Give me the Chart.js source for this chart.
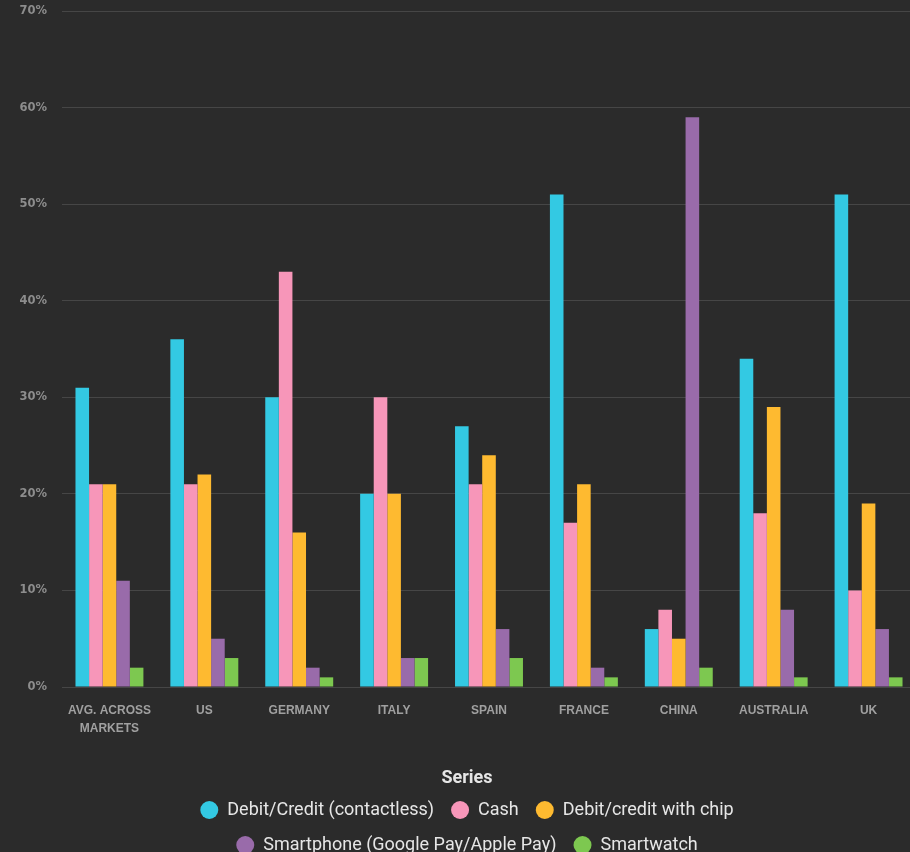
<!DOCTYPE html>
<html>
<head>
<meta charset="utf-8">
<script src="https://cdn.jsdelivr.net/npm/chart.js@4.4.1/dist/chart.umd.min.js"></script>
<style>
  html, body { margin: 0; padding: 0; background: #2b2b2b; overflow: hidden; width: 910px; height: 852px; }
  #wrap { position: absolute; left: 0; top: 0; width: 916px; height: 864px; }
</style>
</head>
<body>
<div id="wrap"><canvas id="c"></canvas></div>
<script>
const categories = [["AVG. ACROSS", "MARKETS"], "US", "GERMANY", "ITALY", "SPAIN", "FRANCE", "CHINA", "AUSTRALIA", "UK"];
const seriesNames = ["Debit/Credit (contactless)", "Cash", "Debit/credit with chip", "Smartphone (Google Pay/Apple Pay)", "Smartwatch"];
const contactless = [31, 36, 30, 20, 27, 51, 6, 34, 51];
const cash        = [21, 21, 43, 30, 21, 17, 8, 18, 10];
const chip        = [21, 22, 16, 20, 24, 21, 5, 29, 19];
const smartphone  = [11, 5, 2, 3, 6, 2, 59, 8, 6];
const smartwatch  = [2, 3, 1, 3, 3, 1, 2, 1, 1];
const yTicks = [0, 10, 20, 30, 40, 50, 60, 70];
const colors = ["#33c9e3", "#f796b9", "#feba30", "#996baa", "#7dc850"];

const seriesValues = [contactless, cash, chip, smartphone, smartwatch];
const datasets = seriesNames.map((name, i) => ({
  label: name,
  data: seriesValues[i],
  backgroundColor: colors[i],
  borderWidth: 0,
  categoryPercentage: 0.716,
  barPercentage: 1.0
}));

new Chart(document.getElementById('c'), {
  type: 'bar',
  data: { labels: categories, datasets },
  options: {
    responsive: true,
    maintainAspectRatio: false,
    animation: false,
    layout: { padding: { left: 18, right: 0, top: 0, bottom: 0 } },
    plugins: {
      tooltip: { enabled: false },
      legend: {
        position: 'bottom',
        align: 'center',
        title: {
          display: true,
          text: 'Series',
          color: '#e6e6e6',
          font: { family: 'Roboto', size: 18, weight: 'bold', lineHeight: 1 },
          padding: { top: 16, bottom: -3 }
        },
        labels: {
          color: '#e6e6e6',
          font: { family: 'Roboto', size: 18 },
          usePointStyle: true,
          pointStyle: 'circle',
          pointStyleWidth: 18,
          boxHeight: 12.7,
          padding: 17
        }
      }
    },
    scales: {
      x: {
        grid: { display: false, drawTicks: false },
        border: { display: false },
        ticks: {
          color: '#a0a0a0',
          font: { family: 'Liberation Sans', size: 12, weight: 'bold', lineHeight: 1.5 },
          padding: 15,
          maxRotation: 0,
          autoSkip: false
        }
      },
      y: {
        min: 0,
        max: 70,
        afterBuildTicks: (scale) => { scale.ticks = yTicks.map(v => ({ value: v })); },
        afterFit: (scale) => { scale.width = 44; scale.paddingTop = 11; scale.paddingBottom = 8; },
        grid: { color: '#464646', lineWidth: 1, drawTicks: false },
        border: { display: false },
        ticks: {
          color: '#8d8d8d',
          font: { family: 'DejaVu Sans', size: 11.5, weight: 'bold' },
          padding: 15,
          callback: (v) => v + '%'
        }
      }
    }
  }
});
</script>
</body>
</html>
